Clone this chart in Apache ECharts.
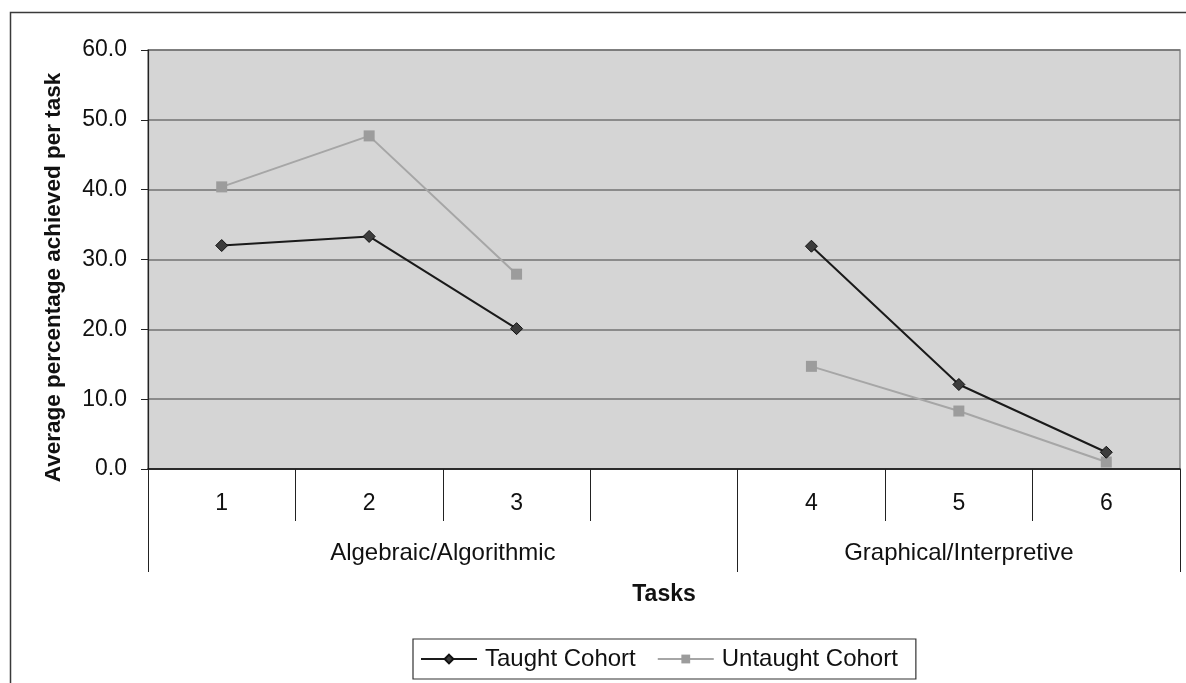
<!DOCTYPE html>
<html>
<head>
<meta charset="utf-8">
<script src="https://cdn.jsdelivr.net/npm/echarts@6/dist/echarts.min.js"></script>
<style>
  html, body { margin: 0; padding: 0; background: #ffffff; }
  #chart { width: 1186px; height: 683px; }
</style>
</head>
<body>
<div id="chart"></div>
<script>
// Task slots along the x axis (blank slot separates the two task groups)
const categories = ['1', '2', '3', '', '4', '5', '6'];
// Task groups and how many slots each spans
const groupNames = ['Algebraic/Algorithmic', 'Graphical/Interpretive'];
const groupSizes = [4, 3];
// Average percentage achieved per task
const taught   = [32.0, 33.3, 20.1, null, 31.9, 12.1, 2.4];
const untaught = [40.4, 47.7, 27.9, null, 14.7, 8.3, 1.0];
const yTicks = [0, 10, 20, 30, 40, 50, 60];

const FONT = '"Liberation Sans", Arial, sans-serif';

// group boundaries and centres in slot units
const bounds = [0];
groupSizes.forEach(s => bounds.push(bounds[bounds.length - 1] + s));
const centres = groupSizes.map((s, i) => bounds[i] + s / 2);

const chart = echarts.init(document.getElementById('chart'), null, { renderer: 'canvas' });

chart.setOption({
  backgroundColor: '#ffffff',
  animation: false,
  graphic: [{
    type: 'rect',
    shape: { x: 10.5, y: 12.5, width: 1200, height: 700 },
    style: { fill: 'none', stroke: '#3a3a3a', lineWidth: 1.5 },
    silent: true
  }],
  grid: {
    left: 148, right: 6, top: 50, bottom: 214,
    show: true,
    backgroundColor: '#d5d5d5',
    borderColor: '#8a8a8a',
    borderWidth: 1.5
  },
  legend: {
    top: 639,
    left: 413,
    orient: 'horizontal',
    itemWidth: 56,
    itemHeight: 11,
    itemGap: 21,
    padding: [8, 18, 8, 7],
    borderColor: '#333333',
    borderWidth: 1.2,
    textStyle: { fontFamily: FONT, fontSize: 24, color: '#111111', padding: [0, 0, 0, 3] },
    data: ['Taught Cohort', 'Untaught Cohort']
  },
  xAxis: [{
    type: 'category',
    data: categories,
    boundaryGap: true,
    position: 'bottom',
    axisLine: { show: true, lineStyle: { color: '#111111', width: 1.5 } },
    axisTick: { show: true, interval: 0, length: 52, lineStyle: { color: '#222222', width: 1 } },
    axisLabel: { interval: 0, margin: 23, fontFamily: FONT, fontSize: 23, color: '#111111' },
    splitLine: { show: false }
  }, {
    type: 'value',
    min: 0,
    max: categories.length,
    position: 'bottom',
    name: 'Tasks',
    nameLocation: 'middle',
    nameGap: 114,
    nameTextStyle: { fontFamily: FONT, fontSize: 23, fontWeight: 'bold', color: '#111111' },
    axisLine: { show: false },
    axisTick: { show: true, customValues: bounds, length: 103, lineStyle: { color: '#222222', width: 1 } },
    axisLabel: {
      show: true,
      customValues: centres,
      margin: 72,
      fontFamily: FONT, fontSize: 24, color: '#111111',
      formatter: v => groupNames[centres.indexOf(v)] || ''
    },
    splitLine: { show: false }
  }],
  yAxis: {
    type: 'value',
    min: yTicks[0],
    max: yTicks[yTicks.length - 1],
    interval: 10,
    name: 'Average percentage achieved per task',
    nameLocation: 'middle',
    nameGap: 83,
    nameTextStyle: {
      fontFamily: FONT, fontSize: 22.5, fontWeight: 'bold', color: '#111111',
      padding: [0, 36, 0, 0]
    },
    axisLine: { show: true, lineStyle: { color: '#222222', width: 1.2 } },
    axisTick: { show: true, length: 7, lineStyle: { color: '#222222' } },
    axisLabel: {
      margin: 21, fontFamily: FONT, fontSize: 23, color: '#111111',
      formatter: v => v.toFixed(1)
    },
    splitLine: { show: true, lineStyle: { color: '#727272', width: 1.5 } }
  },
  series: [{
    name: 'Taught Cohort',
    type: 'line',
    xAxisIndex: 0,
    data: taught,
    connectNulls: false,
    symbol: 'diamond',
    symbolSize: 12,
    showAllSymbol: true,
    lineStyle: { color: '#1a1a1a', width: 2 },
    itemStyle: { color: '#3c3c3c', borderColor: '#111111', borderWidth: 1 },
    z: 3
  }, {
    name: 'Untaught Cohort',
    type: 'line',
    xAxisIndex: 0,
    data: untaught,
    connectNulls: false,
    symbol: 'rect',
    symbolSize: 11,
    showAllSymbol: true,
    lineStyle: { color: '#a6a6a6', width: 2 },
    itemStyle: { color: '#9c9c9c', borderColor: '#9c9c9c', borderWidth: 0 },
    z: 2
  }]
});
</script>
</body>
</html>
